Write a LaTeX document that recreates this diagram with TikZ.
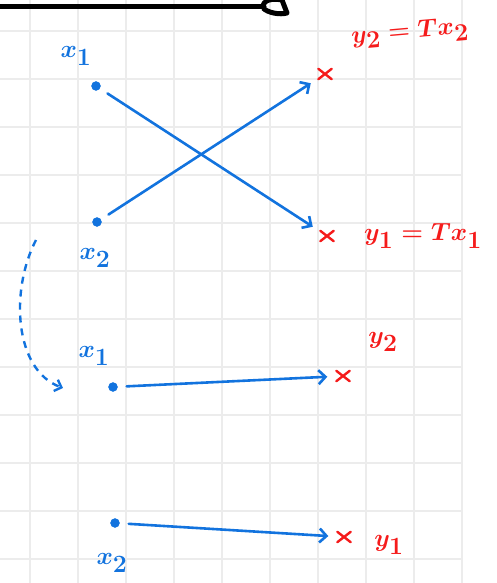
\documentclass[tikz,border=0pt]{standalone}
\usetikzlibrary{arrows.meta,shapes.misc}
\definecolor{PenBlue}{HTML}{1273DE}
\definecolor{PenRed}{HTML}{F51B1B}
\definecolor{GridGray}{HTML}{ECECEC}

\begin{document}
\begin{tikzpicture}[x=1pt,y=-1pt,
  vec/.style={circle,draw=PenBlue,fill=PenBlue,inner sep=0pt,minimum size=9pt},
  img/.style={cross out,draw=PenRed,line width=2.4pt,line cap=round,inner sep=0pt,minimum width=11pt,minimum height=8pt},
  xlabel/.style={text=PenBlue,inner sep=0pt,font=\fontsize{36}{36}\selectfont\boldmath},
  ylabel/.style={text=PenRed,inner sep=0pt,font=\fontsize{34}{34}\selectfont\boldmath},
  arr/.style={-{Straight Barb[length=7pt,width=14pt]},draw=PenBlue,line width=2.6pt,line cap=round,shorten <=9pt,shorten >=9pt}
]
\useasboundingbox (0,0) rectangle (497,583);
% squared paper
\foreach \gx in {30,78,...,462}
  \draw[GridGray,line width=1.5pt] (\gx,0) -- (\gx,583);
\foreach \gy in {31,79,...,559}
  \draw[GridGray,line width=1.5pt] (0,\gy) -- (462,\gy);
% cut-off stroke at the top
\draw[line width=5pt,line cap=round] (0,7) -- (264,7);
\draw[line width=5pt,line join=round] (263,8) .. controls (262,0) and (272,-2) .. (282,0) -- (287,13) .. controls (280,15) and (268,13) .. (263,8);

% the swap T
\node[vec] (xa) at (96,86) {};
\node[vec] (xb) at (97,222) {};
\node[xlabel] at (76,56) {$x_1$};
\node[xlabel] at (95,258) {$x_2$};
\node[img] (yb) at (325,74) {};
\node[img] (ya) at (327,236) {};
\node[ylabel,rotate=5] at (410,33) {$y_2=Tx_2$};
\node[ylabel] at (423,236) {$y_1=Tx_1$};
\draw[arr] (xa) -- (ya);
\draw[arr] (xb) -- (yb);

% same vectors, renamed
\node[vec] (xc) at (113,387) {};
\node[vec] (xd) at (115,523) {};
\node[xlabel] at (94,356) {$x_1$};
\node[xlabel] at (112,563) {$x_2$};
\node[img] (yd) at (343,376) {};
\node[img] (yc) at (344,537) {};
\node[ylabel] at (383,342) {$y_2$};
\node[ylabel] at (389,545) {$y_1$};
\draw[arr] (xc) -- (yd);
\draw[arr] (xd) -- (yc);

\coordinate (swapfrom) at (36,240);
\coordinate (swapto) at (63,388);
\draw[PenBlue,line width=2.4pt,dash pattern=on 7pt off 6pt,-{Straight Barb[length=6pt,width=12pt]}] (swapfrom) .. controls (10,290) and (14,370) .. (swapto);
\end{tikzpicture}
\end{document}
